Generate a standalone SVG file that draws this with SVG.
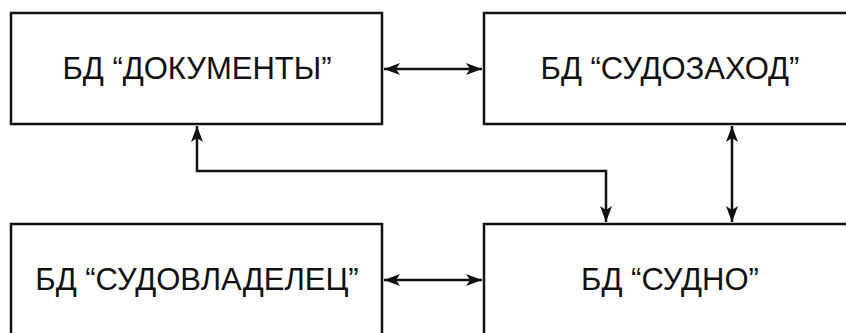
<svg xmlns="http://www.w3.org/2000/svg" width="846" height="333" viewBox="0 0 846 333">
<defs>
<marker id="ah" viewBox="0 0 16 12" refX="16" refY="6" markerWidth="16" markerHeight="12" markerUnits="userSpaceOnUse" orient="auto-start-reverse">
<path d="M0,0 L16,6 L0,12 L4,6 Z" fill="#111"/>
</marker>
<style>
.box{fill:#fff;stroke:#111;stroke-width:2.5}
.lbl{font-family:"Liberation Sans",Arial,sans-serif;font-size:31px;fill:#111;text-anchor:middle}
.con{fill:none;stroke:#111;stroke-width:2.5;marker-start:url(#ah);marker-end:url(#ah)}
.con1{fill:none;stroke:#111;stroke-width:2.5;marker-end:url(#ah)}
</style>
</defs>
<rect width="846" height="333" fill="#fff"/>
<g id="node-documents"><rect class="box" x="11" y="13" width="371" height="111"/><text class="lbl" x="197" y="79">БД “ДОКУМЕНТЫ”</text></g>
<g id="node-sudozakhod"><rect class="box" x="484" y="13" width="380" height="111"/><text class="lbl" x="670" y="79">БД “СУДОЗАХОД”</text></g>
<g id="node-sudovladelets"><rect class="box" x="11" y="224" width="371" height="130"/><text class="lbl" x="197" y="290">БД “СУДОВЛАДЕЛЕЦ”</text></g>
<g id="node-sudno"><rect class="box" x="484" y="224" width="380" height="130"/><text class="lbl" x="670" y="290">БД “СУДНО”</text></g>
<g id="connectors">
<line class="con" x1="384" y1="69" x2="482" y2="69"/>
<line class="con" x1="384" y1="280" x2="482" y2="280"/>
<line class="con" x1="732" y1="126" x2="732" y2="222"/>
<polyline class="con" points="197,126 197,171 606,171 606,222"/>
</g>
</svg>
